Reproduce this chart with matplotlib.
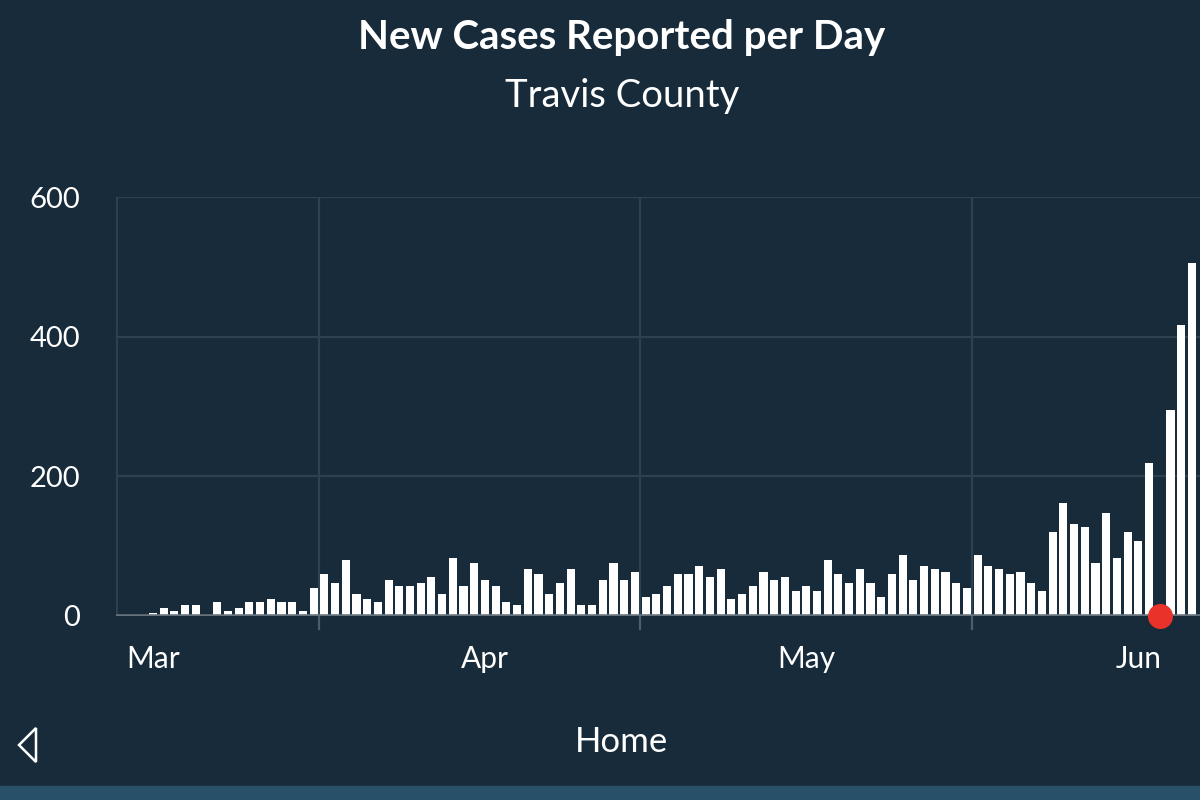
import matplotlib.pyplot as plt
from matplotlib.patches import Polygon, Rectangle
import numpy as np
import pandas as pd

# Datos: casos nuevos por día (1 mar - 6 jun)
dias = pd.date_range("2020-03-01", periods=98, freq="D")
casos = [3, 11, 7, 15, 15, 0, 20, 7, 11, 20, 20, 23, 20, 20, 7, 39,
         59, 47, 79, 31, 23, 20, 51, 43, 43, 47, 55, 31, 83, 43, 75, 51,
         43, 20, 15, 67, 59, 31, 47, 67, 15, 15, 51, 75, 51, 63, 27, 31, 43,
         59, 59, 71, 55, 67, 23, 31, 43, 63, 51, 55, 35, 43, 35, 79, 59,
         47, 67, 47, 27, 59, 87, 51, 71, 67, 63, 47, 39, 87, 71, 67, 59,
         63, 47, 35, 119, 162, 131, 127, 75, 147, 83, 119, 107, 218, 0, 294, 417, 505]
dia_marcado = "2020-06-03"
meses = ["2020-03-01", "2020-04-01", "2020-05-01", "2020-06-01"]
etiquetas_meses = ["Mar", "Apr", "May", "Jun"]
medios_mes = ["2020-03-16", "2020-04-15", "2020-05-16"]
y_ticks = [0, 200, 400, 600]

fondo = "#172b3a"
rejilla = "#2d4251"
fuente = "Lato"

x = np.arange(len(dias))
pos = {d: i for i, d in enumerate(dias)}

fig = plt.figure(figsize=(12, 8), dpi=100, facecolor=fondo)
ax = fig.add_axes([116 / 1200, 1 - 615.5 / 800, 1 - 116 / 1200, (615.5 - 197) / 800])
ax.set_facecolor(fondo)

ax.bar(x, casos, width=0.76, color="white", zorder=3)
ax.scatter([pos[pd.Timestamp(dia_marcado)]], [0], s=290, color="#e8322a",
           zorder=5, clip_on=False)

ax.set_xlim(-3.45, 97.76)
ax.set_ylim(0, 600)

# rejilla horizontal
for v in y_ticks[1:]:
    ax.axhline(v, color=rejilla, lw=1.6, zorder=1)
# lineas verticales a mitad de mes
for m in medios_mes:
    xm = pos[pd.Timestamp(m)] + 0.5
    ax.axvline(xm, color=rejilla, lw=1.6, zorder=1)
    ax.plot([xm, xm], [0, -20], color="#4d5d69", lw=1.6, clip_on=False)
ax.axvline(-3.45, color=rejilla, lw=2, zorder=1)
ax.axhline(0, color="#66727b", lw=2.6, zorder=4)

for s in ax.spines.values():
    s.set_visible(False)
ax.set_yticks(y_ticks)
ax.set_yticklabels([str(v) for v in y_ticks])
ax.set_xticks([pos[pd.Timestamp(m)] for m in meses])
ax.set_xticklabels(etiquetas_meses)
ax.tick_params(axis="both", length=0, colors="white")
ax.tick_params(axis="y", pad=26, labelsize=21)
ax.tick_params(axis="x", pad=21, labelsize=21.5)
for t in ax.get_xticklabels() + ax.get_yticklabels():
    t.set_fontfamily(fuente)

fig.text(622 / 1200, 1 - 38 / 800, "New Cases Reported per Day", ha="center",
         va="center", color="white", fontsize=29, fontweight="bold", family=fuente)
fig.text(622 / 1200, 1 - 96 / 800, "Travis County", ha="center", va="center",
         color="white", fontsize=27.5, family=fuente)
fig.text(622 / 1200, 1 - 742 / 800, "Home", ha="center", va="center",
         color="white", fontsize=25, family=fuente)

# flecha de volver
fig.patches.append(Polygon([[36 / 1200, 1 - 728 / 800], [19 / 1200, 1 - 745 / 800],
                            [36 / 1200, 1 - 762 / 800]], closed=True, fill=False,
                           edgecolor="white", lw=1.8, transform=fig.transFigure))
# franja inferior
fig.patches.append(Rectangle((0, 0), 1, 14 / 800, color="#285068",
                             transform=fig.transFigure))

fig.savefig("out.png", dpi=100, facecolor=fondo)
